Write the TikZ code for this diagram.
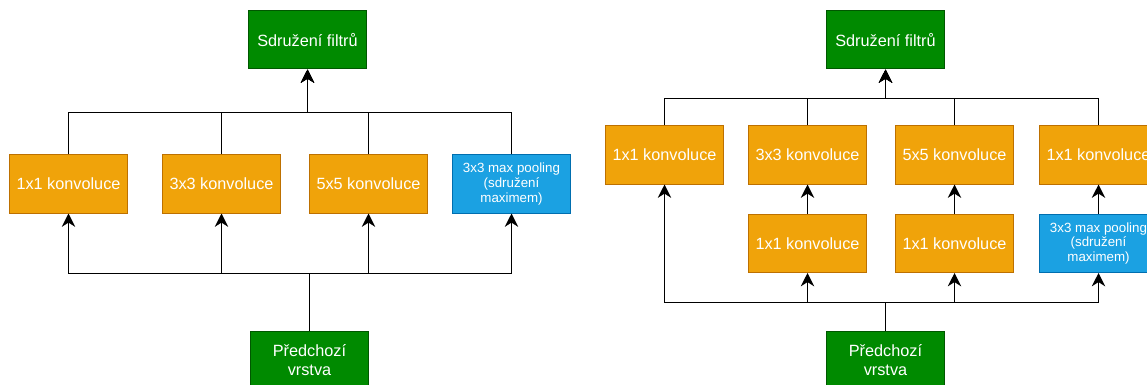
\documentclass[tikz,border=0pt]{standalone}
\usepackage{fontspec}
\setmainfont{Liberation Sans}
\usetikzlibrary{arrows.meta}
\definecolor{convfill}{HTML}{F0A30A}
\definecolor{convline}{HTML}{BD7000}
\definecolor{greenfill}{HTML}{008A00}
\definecolor{greenline}{HTML}{005700}
\definecolor{poolfill}{HTML}{1BA1E2}
\definecolor{poolline}{HTML}{006EAF}
\tikzset{
  box/.style={rectangle, minimum width=88.5pt, minimum height=43.5pt, inner sep=2pt,
    text=white, align=center, line width=0.75pt,
    font=\fontsize{12.2}{14.6}\selectfont},
  conv/.style={box, fill=convfill, draw=convline},
  layer/.style={box, fill=greenfill, draw=greenline},
  pool/.style={box, fill=poolfill, draw=poolline, font=\fontsize{10}{11}\selectfont},
  link/.style={draw=black, line width=1pt},
  arrowlink/.style={link, -{Stealth[length=10pt, width=10pt, inset=3.2pt]}},
}
\begin{document}
\begin{tikzpicture}[x=0.75pt, y=-0.75pt]
\useasboundingbox (0,0) rectangle (1147,385);
\clip (0,0) rectangle (1147,385);

% ---------- naive inception module ----------
\node[layer] (topL) at (307.5,40) {Sdružení filtrů};
\node[conv] (aL) at (68.5,184) {1x1 konvoluce};
\node[conv] (bL) at (221.5,184) {3x3 konvoluce};
\node[conv] (cL) at (368.5,184) {5x5 konvoluce};
\node[pool] (pL) at (511.5,184) {3x3 max pooling\\(sdružení\\maximem)};
\node[layer] (prevL) at (309.5,360) {Předchozí\\vrstva};

\coordinate (busTL) at (307.5,112.5);
\coordinate (busBL) at (309.5,273.5);

\foreach \n in {aL,bL,cL,pL}{
  \draw[arrowlink] (\n.north) |- (busTL) -- (topL.south);
  \draw[arrowlink] (prevL.north) -- (busBL) -| (\n.south);
}

% ---------- inception module with reductions ----------
\node[layer] (topR) at (885.5,40) {Sdružení filtrů};
\node[conv] (aR) at (664.5,155) {1x1 konvoluce};
\node[conv] (bR) at (807.5,155) {3x3 konvoluce};
\node[conv] (cR) at (954.5,155) {5x5 konvoluce};
\node[conv] (dR) at (1098.5,155) {1x1 konvoluce};
\node[conv] (rbR) at (807.5,243.5) {1x1 konvoluce};
\node[conv] (rcR) at (954.5,243.5) {1x1 konvoluce};
\node[pool] (pR) at (1098.5,243.5) {3x3 max pooling\\(sdružení\\maximem)};
\node[layer] (prevR) at (885.5,360) {Předchozí\\vrstva};

\coordinate (busTR) at (885.5,98.5);
\coordinate (busBR) at (885.5,302.5);

\foreach \n in {aR,bR,cR,dR}{
  \draw[arrowlink] (\n.north) |- (busTR) -- (topR.south);
}
\foreach \n in {aR,rbR,rcR,pR}{
  \draw[arrowlink] (prevR.north) -- (busBR) -| (\n.south);
}
\draw[arrowlink] (rbR.north) -- (bR.south);
\draw[arrowlink] (rcR.north) -- (cR.south);
\draw[arrowlink] (pR.north) -- (dR.south);
\end{tikzpicture}
\end{document}
